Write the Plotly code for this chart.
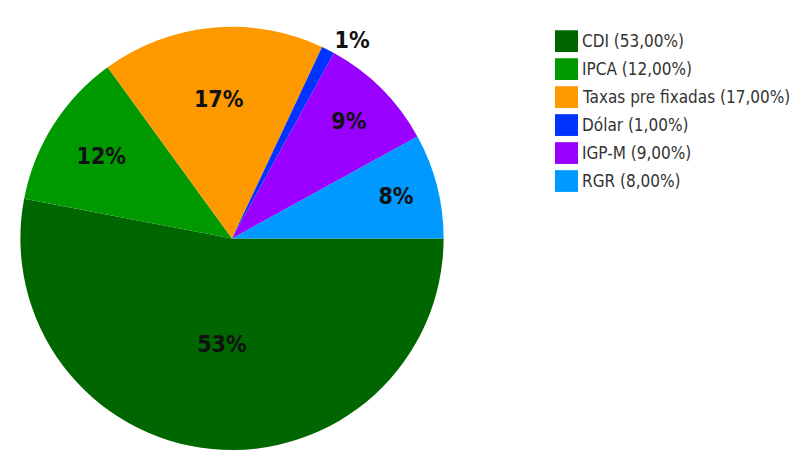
import plotly.graph_objects as go

# data
labels = ["CDI", "IPCA", "Taxas pre fixadas", "Dólar", "IGP-M", "RGR"]
values = [53, 12, 17, 1, 9, 8]
colors = ["#006600", "#009900", "#FF9900", "#0033FF", "#9900FF", "#0099FF"]
text_pos = ["inside", "inside", "inside", "outside", "inside", "inside"]

# the page body adds an 8px margin, so the figure is 8px smaller than the window
W, H = 790, 447
FONT = "DejaVu Sans Condensed, DejaVu Sans, sans-serif"

fig = go.Figure(go.Pie(
    labels=labels,
    values=values,
    sort=False,
    direction="clockwise",
    rotation=90,
    marker=dict(colors=colors, line=dict(width=0)),
    textinfo="percent",
    textposition=text_pos,
    insidetextorientation="horizontal",
    textfont=dict(family=FONT, size=23, color="#111111", weight="bold"),
    showlegend=False,
    hoverinfo="label+percent",
    domain=dict(x=[10 / W, 438 / W], y=[0, 428 / H]),
))

# legend drawn by hand so the swatches match the reference size
x0, y_top, step, box = 547, 22.5, 28.3, 22
shapes = []
annotations = []
for i, (lab, val, col) in enumerate(zip(labels, values, colors)):
    top = y_top + i * step
    shapes.append(dict(
        type="rect", xref="paper", yref="paper",
        x0=x0 / W, x1=(x0 + box + 1) / W,
        y0=1 - (top + box) / H, y1=1 - top / H,
        fillcolor=col, line=dict(width=0),
    ))
    annotations.append(dict(
        xref="paper", yref="paper",
        x=(x0 + box + 3) / W, y=1 - (top + box / 2) / H,
        xanchor="left", yanchor="middle", showarrow=False,
        text=f"{lab} ({val:.2f}%)".replace(".", ","),
        font=dict(family=FONT, size=17, color="#333333"),
    ))

fig.update_layout(
    width=W, height=H,
    margin=dict(l=0, r=0, t=0, b=0),
    paper_bgcolor="white",
    plot_bgcolor="white",
    shapes=shapes,
    annotations=annotations,
)

fig.write_html("out.html")
